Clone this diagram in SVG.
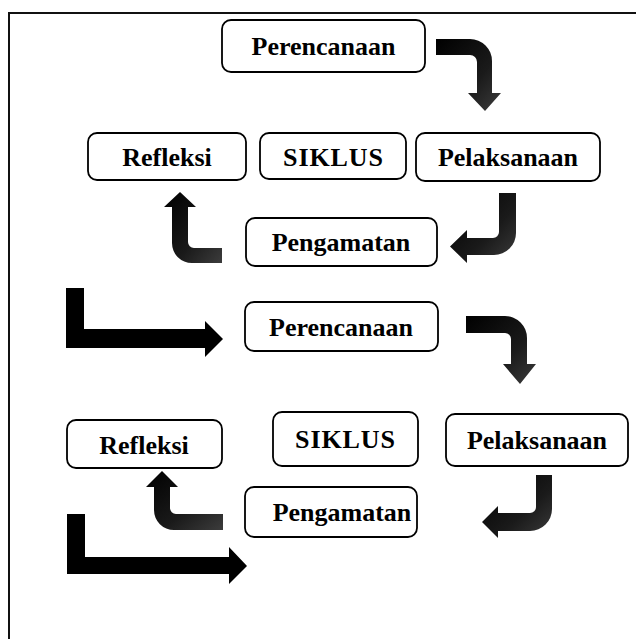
<svg xmlns="http://www.w3.org/2000/svg" width="636" height="639" viewBox="0 0 636 639">
<style>
.box{fill:#fff;stroke:#000;stroke-width:1.8}
.lbl{font-family:"Liberation Serif","Times New Roman",serif;font-weight:bold;font-size:26px;text-anchor:middle;fill:#000}
.curv{fill:url(#g)}
.solid{fill:#000}
</style>
<defs>
<linearGradient id="g" x1="0" y1="0" x2="1" y2="1">
<stop offset="0" stop-color="#000"/>
<stop offset="0.6" stop-color="#1a1a1a"/>
<stop offset="1" stop-color="#3c3c3c"/>
</linearGradient>
</defs>
<rect width="636" height="639" fill="#fff"/>
<path d="M9,639 V13 H636" fill="none" stroke="#111" stroke-width="2"/>
<g id="connectors">
<path class="curv" d="M436,39 H470 A22,22 0 0 1 492,61 V93 H501 L485,111 L468,93 H477 V62 A7,7 0 0 0 470,55 H436 Z"/>
<path class="curv" d="M499,193 H516 V233 A22,22 0 0 1 494,255 H467 V263 L450,246.5 L467,230 V238 H493 A6,6 0 0 0 499,232 Z"/>
<path class="curv" d="M222,248 V263 H192 A20,20 0 0 1 172,243 V207 H164 L180,192 L196,207 H188 V242 A6,6 0 0 0 194,248 Z"/>
<path class="solid" d="M66,288 H84 V329 H205 V321 L223,339 L205,357 V348 H66 Z"/>
<path class="curv" d="M466,316 H505 A22,22 0 0 1 527,338 V364 H536 L520,384 L503,364 H511 V339 A6,6 0 0 0 505,333 H466 Z"/>
<path class="curv" d="M536,475 H552 V509 A22,22 0 0 1 530,531 H498 V538 L482,522 L498,506 V513 H530 A6,6 0 0 0 536,507 Z"/>
<path class="curv" d="M223,514 V530 H174 A20,20 0 0 1 154,510 V487 H146 L162,471 L178,487 H170 V508 A6,6 0 0 0 176,514 Z"/>
<path class="solid" d="M67,514 H85 V557 H229 V547 L247,566 L229,584 V574 H67 Z"/>
</g>
<g id="perencanaan1"><rect class="box" x="222" y="20" width="203" height="52" rx="9"/><text class="lbl" x="323.5" y="55">Perencanaan</text></g>
<g id="refleksi1"><rect class="box" x="88" y="133" width="158" height="47" rx="9"/><text class="lbl" x="167" y="166">Refleksi</text></g>
<g id="siklus1"><rect class="box" x="260" y="133" width="146" height="46" rx="9"/><text class="lbl" x="333" y="166" textLength="100">SIKLUS</text></g>
<g id="pelaksanaan1"><rect class="box" x="416" y="133" width="184" height="48" rx="9"/><text class="lbl" x="508" y="166">Pelaksanaan</text></g>
<g id="pengamatan1"><rect class="box" x="246" y="218" width="191" height="48" rx="9"/><text class="lbl" x="341" y="251">Pengamatan</text></g>
<g id="perencanaan2"><rect class="box" x="245" y="302" width="193" height="49" rx="9"/><text class="lbl" x="341" y="336">Perencanaan</text></g>
<g id="refleksi2"><rect class="box" x="67" y="420" width="155" height="48" rx="9"/><text class="lbl" x="144" y="454">Refleksi</text></g>
<g id="siklus2"><rect class="box" x="273" y="412" width="145" height="54" rx="9"/><text class="lbl" x="345" y="448" textLength="100">SIKLUS</text></g>
<g id="pelaksanaan2"><rect class="box" x="446" y="414" width="182" height="52" rx="9"/><text class="lbl" x="537" y="449">Pelaksanaan</text></g>
<g id="pengamatan2"><rect class="box" x="245" y="487" width="172" height="50" rx="9"/><text class="lbl" x="342" y="521">Pengamatan</text></g>
</svg>
